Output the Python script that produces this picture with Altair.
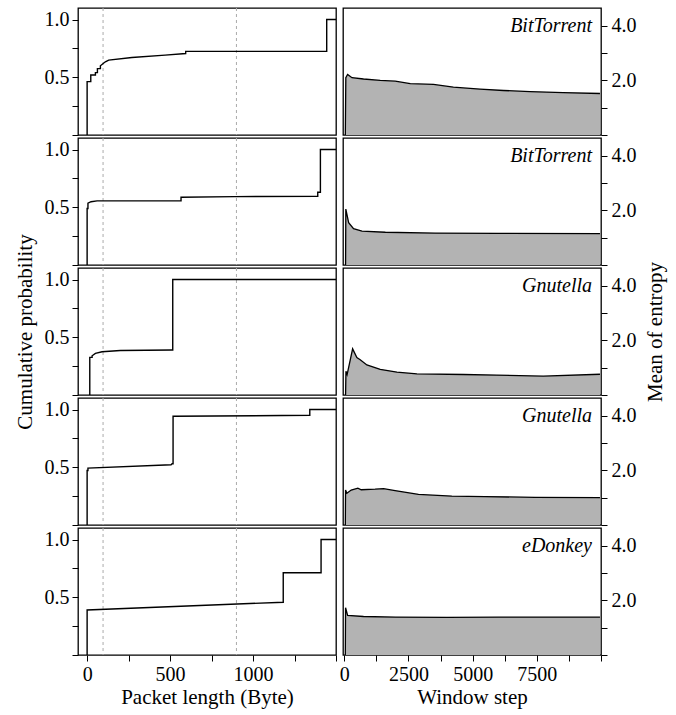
import altair as alt
import pandas as pd

FONT = "Liberation Serif"

# ---- Left column: CDF of packet length (Byte) ----
cdf_x = [
    [0, 0, 22, 22, 50, 50, 62, 62, 80, 80, 110, 130, 270, 470, 594, 594, 1444, 1444, 1500],
    [0, 0, 5, 5, 24, 60, 566, 566, 890, 1390, 1390, 1406, 1406, 1500],
    [16, 16, 30, 30, 50, 90, 200, 510, 516, 516, 1500],
    [0, 0, 5, 5, 506, 512, 518, 518, 1342, 1342, 1500],
    [0, 0, 1182, 1182, 1410, 1410, 1500],
]
cdf_y = [
    [0, 0.462, 0.462, 0.52, 0.52, 0.54, 0.54, 0.575, 0.575, 0.60, 0.634, 0.649, 0.671, 0.692, 0.706, 0.724, 0.725, 1.0, 1.0],
    [0, 0.49, 0.49, 0.535, 0.548, 0.555, 0.556, 0.587, 0.592, 0.595, 0.63, 0.63, 1.0, 1.0],
    [0, 0.326, 0.326, 0.34, 0.36, 0.375, 0.385, 0.39, 0.39, 1.0, 1.0],
    [0, 0.472, 0.472, 0.493, 0.522, 0.53, 0.53, 0.942, 0.95, 1.0, 1.0],
    [0, 0.39, 0.457, 0.712, 0.712, 1.0, 1.0],
]
thresholds = [96, 900]

# ---- Right column: mean of entropy vs window step ----
ent_x = [
    [40, 60, 130, 300, 750, 1400, 1985, 2570, 3475, 4250, 5290, 6200, 7240, 8530, 9960],
    [50, 60, 170, 360, 690, 1600, 3540, 6000, 9960],
    [50, 65, 110, 325, 490, 620, 880, 1400, 2050, 2830, 4640, 5940, 7750, 9960],
    [40, 50, 100, 270, 530, 660, 1200, 1530, 1980, 2890, 4190, 5480, 7430, 9960],
    [40, 50, 130, 750, 2000, 4000, 6000, 8000, 9960],
]
ent_y = [
    [0, 2.1, 2.22, 2.1, 2.05, 2.0, 1.97, 1.88, 1.85, 1.75, 1.68, 1.63, 1.59, 1.555, 1.52],
    [0, 2.05, 1.55, 1.33, 1.24, 1.2, 1.17, 1.16, 1.15],
    [0, 0.87, 0.75, 1.69, 1.37, 1.29, 1.1, 0.94, 0.84, 0.77, 0.75, 0.73, 0.69, 0.76],
    [0, 1.28, 1.16, 1.28, 1.35, 1.29, 1.31, 1.33, 1.26, 1.12, 1.06, 1.04, 1.01, 1.0],
    [0, 1.73, 1.45, 1.41, 1.39, 1.38, 1.39, 1.39, 1.39],
]
labels = ["BitTorrent", "BitTorrent", "Gnutella", "Gnutella", "eDonkey"]

W, H = 258, 127
n = len(labels)

AX = dict(labelFont=FONT, titleFont=FONT, labelFontSize=20, titleFontSize=21,
          labelColor="black", titleColor="black", tickColor="black", tickWidth=1,
          titleFontWeight="normal", grid=False, domain=False, tickSize=6)

left_panels = []
right_panels = []
for i in range(n):
    last = i == n - 1
    mid = i == 2

    # left
    xs_l = alt.Scale(domain=[-55, 1500], nice=False, zero=False)
    if last:
        xax_l = alt.Axis(values=[0, 250, 500, 750, 1000, 1250, 1500], format="d",
                         labelExpr="(datum.value % 500 == 0 && datum.value < 1500) ? datum.label : ''",
                         title="Packet length (Byte)", labelPadding=3, titlePadding=2, **AX)
    else:
        xax_l = None
    yax_l = alt.Axis(values=[0, 0.25, 0.5, 0.75, 1.0], format=".1f",
                     labelExpr="(datum.value == 0.5 || datum.value == 1) ? datum.label : ''",
                     title="Cumulative probability" if mid else None,
                     labelPadding=3, titlePadding=9, **AX)
    ys_l = alt.Scale(domain=[0, 1.1], nice=False)

    df = pd.DataFrame({"x": cdf_x[i], "y": cdf_y[i], "k": list(range(len(cdf_x[i])))})
    rules = alt.Chart(pd.DataFrame({"x": thresholds})).mark_rule(
        color="#aaaaaa", strokeDash=[3, 3], strokeWidth=1
    ).encode(x=alt.X("x:Q", scale=xs_l, axis=xax_l))
    line = alt.Chart(df).mark_line(color="black", strokeWidth=1.4, clip=True).encode(
        x=alt.X("x:Q", scale=xs_l, axis=xax_l),
        y=alt.Y("y:Q", scale=ys_l, axis=yax_l),
        order=alt.Order("k:Q"),
    )
    left_panels.append(alt.layer(rules, line).properties(width=W, height=H))

    # right
    xs_r = alt.Scale(domain=[-50, 10000], nice=False, zero=False)
    if last:
        xax_r = alt.Axis(values=[j * 1250 for j in range(9)], format="d",
                         labelExpr="(datum.value % 2500 == 0 && datum.value < 10000) ? datum.label : ''",
                         title="Window step", labelPadding=3, titlePadding=2, **AX)
    else:
        xax_r = None
    yax_r = alt.Axis(orient="right", values=[0, 1, 2, 3, 4], format=".1f",
                     labelExpr="(datum.value == 2 || datum.value == 4) ? datum.label : ''",
                     title="Mean of entropy" if mid else None,
                     titleAngle=270, titleBaseline="top",
                     labelPadding=4, titlePadding=8, **AX)
    ys_r = alt.Scale(domain=[0, 4.65], nice=False)

    dfr = pd.DataFrame({"x": ent_x[i], "y": ent_y[i]})
    area = alt.Chart(dfr).mark_area(
        color="#b3b3b3", opacity=1, line={"color": "black", "strokeWidth": 1.3}, clip=True
    ).encode(
        x=alt.X("x:Q", scale=xs_r, axis=xax_r),
        y=alt.Y("y:Q", scale=ys_r, axis=yax_r),
    )
    txt = alt.Chart(pd.DataFrame({"label": [labels[i]]})).mark_text(
        font=FONT, fontStyle="italic", fontSize=20, align="right", baseline="top", color="black"
    ).encode(x=alt.value(W - 9), y=alt.value(8), text="label:N")
    right_panels.append(alt.layer(area, txt).properties(width=W, height=H))

left = alt.vconcat(*left_panels, spacing=3, bounds="flush")
right = alt.vconcat(*right_panels, spacing=3, bounds="flush")
chart = alt.hconcat(left, right, spacing=0).properties(
    padding={"left": 13, "top": 6, "right": 5, "bottom": 5},
    background="white",
).configure_view(
    stroke="black", strokeWidth=1.3
)

chart.save("out.html", embed_options={"renderer": "svg", "actions": False})
